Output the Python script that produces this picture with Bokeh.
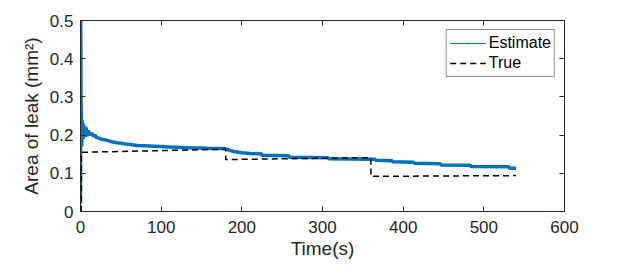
from bokeh.plotting import figure
from bokeh.models import (Range1d, LinearAxis, FixedTicker, Legend, LegendItem,
                          CustomLabelingPolicy)
from bokeh.embed import file_html
from bokeh.resources import INLINE

# ---- data ----
est_t = [0, 0.3, 0.6, 1, 1.5, 2, 2.5, 3, 3.5, 4, 4.5, 5, 5.5, 6, 6.5, 7, 7.5, 8, 9, 10,
         12, 14, 16, 18, 20, 25, 30, 35, 40, 45, 50, 55, 60, 70, 80, 90, 100, 110, 120,
         130, 140, 150, 160, 170, 180, 185, 190, 200, 210, 224, 225, 258, 259, 307,
         308, 365, 366, 386, 387, 413, 414, 446, 447, 483, 484, 531, 532, 540]
est_v = [0.02, 0.5, 0.3, 0.25, 0.17, 0.24, 0.19, 0.23, 0.19, 0.22, 0.195, 0.225, 0.2,
         0.215, 0.195, 0.22, 0.2, 0.21, 0.198, 0.212, 0.2, 0.205, 0.197, 0.2, 0.194,
         0.19, 0.188, 0.185, 0.182, 0.18, 0.179, 0.177, 0.176, 0.173, 0.172, 0.171,
         0.17, 0.169, 0.168, 0.167, 0.166, 0.166, 0.165, 0.165, 0.164, 0.16, 0.157,
         0.154, 0.152, 0.151, 0.147, 0.146, 0.142, 0.141, 0.138, 0.137, 0.134, 0.133,
         0.13, 0.129, 0.126, 0.125, 0.122, 0.121, 0.118, 0.117, 0.113, 0.113]
true_t = [1, 1, 180, 180, 360, 360, 540]
true_v = [0, 0.155, 0.163, 0.136, 0.141, 0.092, 0.094]

x_ticks = [0, 100, 200, 300, 400, 500, 600]
y_ticks = [0, 0.1, 0.2, 0.3, 0.4, 0.5]
y_tick_labels = ["0", "0.1", "0.2", "0.3", "0.4", "0.5"]

FONT = "Liberation Sans"
TXT = "#262626"
BLUE = "#0072BD"

p = figure(width=623, height=267, output_backend="svg", toolbar_location=None,
           x_range=Range1d(0, 600), y_range=Range1d(0, 0.5),
           min_border_left=80, min_border_right=59, min_border_top=20,
           min_border_bottom=56)
p.xgrid.visible = False
p.ygrid.visible = False
p.outline_line_color = TXT
p.outline_line_width = 1
p.background_fill_color = "white"
p.border_fill_color = "white"

# data lines
p.line(est_t, est_v, line_color=BLUE, line_width=3.5)
p.line(true_t, true_v, line_color="black", line_width=1.5, line_dash="6 4")

# legend proxies (placed outside the visible range)
le1 = p.line([-100, -90], [-1, -1], line_color=BLUE, line_width=1)
le2 = p.scatter([-100], [-1], marker="dot", size=12, line_color=BLUE,
                fill_color=BLUE, line_width=2)
lt = p.line([-100, -90], [-1, -1], line_color="black", line_width=1.5, line_dash="6 4")
legend = Legend(items=[LegendItem(label="Estimate", renderers=[le1, le2]),
                       LegendItem(label="True", renderers=[lt])],
                location="top_right", margin=9, padding=3, spacing=0,
                glyph_width=36, glyph_height=20, label_height=20,
                label_standoff=3, label_text_font=FONT,
                label_text_font_size="16px", label_text_color="black",
                border_line_color=TXT, border_line_width=1,
                background_fill_color="white", background_fill_alpha=1)
p.add_layout(legend, "center")

no_labels = CustomLabelingPolicy(code="return new Set()")

def style(ax, show_labels=True):
    ax.axis_line_color = TXT
    ax.major_tick_line_color = TXT
    ax.major_tick_in = 5
    ax.major_tick_out = 0
    ax.minor_tick_line_color = None
    ax.major_label_text_font = FONT
    ax.major_label_text_color = TXT
    ax.axis_label_text_font = FONT
    ax.axis_label_text_color = TXT
    ax.axis_label_text_font_style = "normal"
    ax.axis_label_text_font_size = "19px"
    if show_labels:
        ax.major_label_text_font_size = "17px"
    else:
        ax.major_label_text_font_size = "1px"
        ax.major_label_standoff = 0
        ax.major_label_policy = no_labels

style(p.xaxis[0])
style(p.yaxis[0])
p.xaxis[0].ticker = FixedTicker(ticks=x_ticks)
p.yaxis[0].ticker = FixedTicker(ticks=y_ticks)
p.yaxis[0].major_label_overrides = {t: s for t, s in zip(y_ticks, y_tick_labels)}
p.xaxis[0].axis_label = "Time(s)"
p.yaxis[0].axis_label = "Area of leak (mm²)"
p.xaxis[0].major_label_standoff = 9
p.xaxis[0].axis_label_standoff = 2
p.yaxis[0].major_label_standoff = 7
p.yaxis[0].axis_label_standoff = 5

top = LinearAxis(ticker=FixedTicker(ticks=x_ticks))
right = LinearAxis(ticker=FixedTicker(ticks=y_ticks))
style(top, False)
style(right, False)
p.add_layout(top, "above")
p.add_layout(right, "right")

open("out.html", "w").write(file_html(p, INLINE))
